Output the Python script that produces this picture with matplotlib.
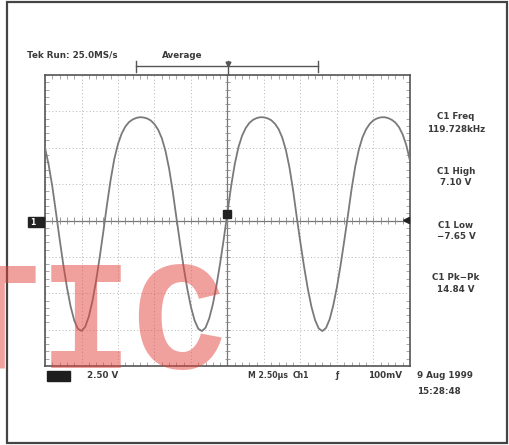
import matplotlib
matplotlib.use("Agg")
import matplotlib.pyplot as plt
import numpy as np
from matplotlib.patches import Rectangle
from matplotlib.lines import Line2D

# Channel 1 trace, volts read every 0.1 division across the 10-division screen
volts = [
    5.00, 3.83, 2.35, 0.56, -1.27, -3.02, -4.58, -5.89, -6.86, -7.44,
    -7.59, -7.31, -6.61, -5.53, -4.14, -2.50, -0.73, 1.12, 2.82, 4.24,
    5.26, 5.97, 6.45, 6.76, 6.94, 7.05, 7.10, 7.08, 7.01, 6.87,
    6.62, 6.24, 5.66, 4.79, 3.57, 2.00, 0.19, -1.57, -3.23, -4.72,
    -5.96, -6.88, -7.44, -7.60, -7.36, -6.72, -5.74, -4.44, -2.91, -1.23,
    0.57, 2.38, 3.89, 5.04, 5.83, 6.36, 6.71, 6.92, 7.04, 7.10,
    7.09, 7.02, 6.89, 6.65, 6.28, 5.70, 4.84, 3.61, 2.03, 0.18,
    -1.56, -3.21, -4.69, -5.93, -6.85, -7.42, -7.60, -7.38, -6.78, -5.81,
    -4.55, -3.04, -1.38, 0.37, 2.17, 3.71, 4.89, 5.73, 6.28, 6.65,
    6.89, 7.02, 7.09, 7.10, 7.04, 6.92, 6.73, 6.41, 5.91, 5.17,
    4.10,
]
t_div = np.linspace(0, 10, len(volts))

meas_labels = ["C1 Freq", "C1 High", "C1 Low", "C1 Pk\u2212Pk"]
meas_values = ["119.728kHz", "7.10 V", "\u22127.65 V", "14.84 V"]

W, H = 510, 445


def fx(px):
    return px / W


def fy(py):
    return 1 - py / H


fig = plt.figure(figsize=(5.1, 4.45), dpi=100)

# outer frame
fig.patches.append(Rectangle((fx(7), fy(443)), fx(500), 441 / H, transform=fig.transFigure,
                             fill=False, ec="#444444", lw=1.6))

ax = fig.add_axes([fx(45), fy(366), fx(365), 291 / H])
ax.plot(t_div, volts, color="#7a7a7a", lw=1.3, zorder=3)
ax.set_xlim(0, 10)
ax.set_ylim(-10, 10)
ax.set_xticks(range(11))
ax.set_yticks(np.arange(-10, 10.1, 2.5))
ax.set_xticks(np.arange(0, 10.01, 0.2), minor=True)
ax.set_yticks(np.arange(-10, 10.01, 0.5), minor=True)
ax.grid(True, which="major", ls=(0, (1, 2.5)), color="#b5b5b5", lw=0.7)
ax.tick_params(which="major", length=0, labelbottom=False, labelleft=False)
ax.tick_params(which="minor", direction="in", length=3, color="#999999", width=0.6,
               top=True, right=True)
for s in ax.spines.values():
    s.set_color("#555555")
    s.set_linewidth(1.2)

# crosshair with its small ticks
ax.axhline(0, color="#777777", lw=0.9, zorder=2)
ax.axvline(5, color="#777777", lw=0.9, zorder=2)
ax.vlines(np.arange(0, 10.01, 0.2), -0.22, 0.22, color="#888888", lw=0.6, zorder=2)
ax.hlines(np.arange(-10, 10.01, 0.5), 4.93, 5.07, color="#888888", lw=0.6, zorder=2)

# trigger point and trigger level markers
ax.plot([5.0], [0.45], marker="s", ms=6, color="#222222", zorder=4, clip_on=False)
ax.plot([9.9], [0.05], marker="<", ms=5, color="#222222", zorder=4, clip_on=False)

# ground marker on the left
fig.patches.append(Rectangle((fx(28), fy(227)), 16 / W, 10 / H, transform=fig.transFigure,
                             color="#222222"))
fig.text(fx(33), fy(222), "1", color="white", fontsize=5.5, weight="bold", va="center", ha="center")

# record bracket above the graticule
for xs, ys in [([136, 318], [66, 66]), ([136, 136], [61, 72]), ([318, 318], [61, 72]),
               ([228, 228], [61, 74])]:
    fig.add_artist(Line2D([fx(v) for v in xs], [fy(v) for v in ys], color="#555555", lw=1.0))
fig.add_artist(Line2D([fx(228)], [fy(64)], marker="v", ms=3.5, color="#555555"))

txt = dict(fontsize=6.3, weight="bold", color="#3a3a3a", va="center")
small = dict(txt, fontsize=5.6)
fig.text(fx(27), fy(55), "Tek Run: 25.0MS/s", **txt)
fig.text(fx(162), fy(55), "Average", **txt)

meas_y = [(117, 129), (172, 182), (225, 236), (278, 290)]
for (y1, y2), lab, val in zip(meas_y, meas_labels, meas_values):
    fig.text(fx(456), fy(y1), lab, ha="center", **txt)
    fig.text(fx(456), fy(y2), val, ha="center", **txt)

# bottom status line
fig.patches.append(Rectangle((fx(47), fy(381)), 23 / W, 10 / H, transform=fig.transFigure,
                             color="#1e1e1e"))
fig.text(fx(87), fy(376), "2.50 V", **txt)
fig.text(fx(248), fy(376), "M 2.50\u00b5s", **small)
fig.text(fx(293), fy(376), "Ch1", **small)
fig.text(fx(335), fy(376), "\u0192", **small)
fig.text(fx(368), fy(376), "100mV", **txt)
fig.text(fx(417), fy(376), "9 Aug 1999", **txt)
fig.text(fx(417), fy(391), "15:28:48", **txt)

# watermark
fig.text(fx(86), fy(368), "TIC", family="Liberation Mono", weight="bold", fontsize=112,
         color="#e5453c", alpha=0.5, ha="center", va="baseline", zorder=10)

fig.savefig("out.png", dpi=100)
